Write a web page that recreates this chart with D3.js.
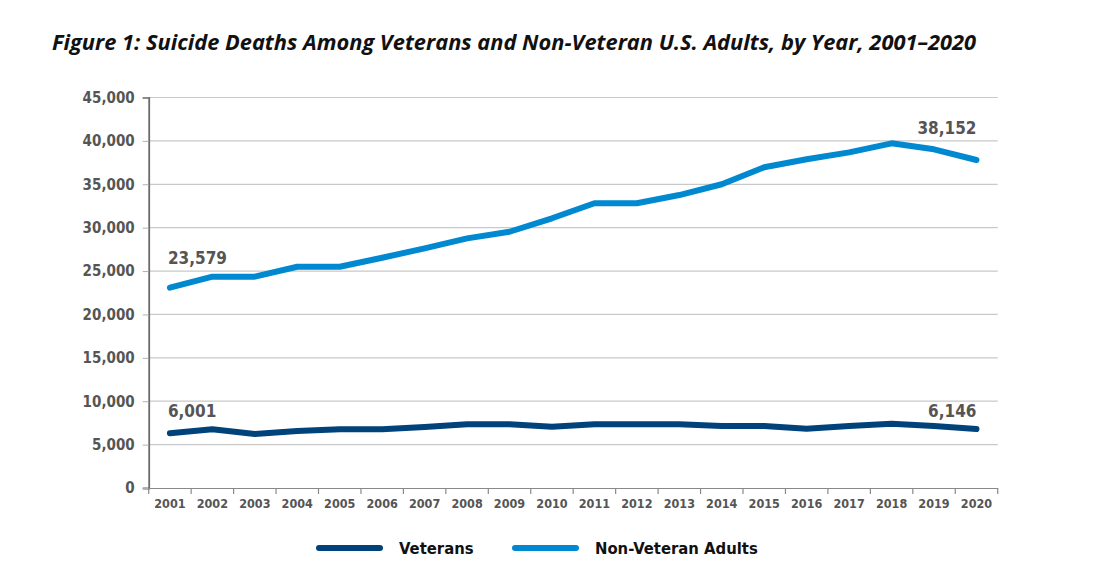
<!DOCTYPE html>
<html>
<head>
<meta charset="utf-8">
<script src="https://cdn.jsdelivr.net/npm/d3@7"></script>
<style>
  body { margin: 0; background: #fff; }
  svg { display: block; }
  text { font-family: "Liberation Sans Narrow", "DejaVu Sans Condensed", "Open Sans", sans-serif; }
</style>
</head>
<body>
<script>
// values
var years = ["2001","2002","2003","2004","2005","2006","2007","2008","2009","2010",
             "2011","2012","2013","2014","2015","2016","2017","2018","2019","2020"];
var veterans = [6300,6760,6220,6570,6760,6760,7030,7340,7340,7060,
                7340,7340,7340,7140,7140,6830,7140,7410,7140,6800];
var nonVeterans = [23080,24350,24350,25500,25500,26540,27620,28770,29530,31080,
                   32810,32810,33760,35000,36960,37880,38680,39720,39030,37800];
var yTicks = [0,5000,10000,15000,20000,25000,30000,35000,40000,45000];
var seriesNames = ["Veterans","Non-Veteran Adults"];
var endLabels = [["6,001","6,146"],["23,579","38,152"]];

var W = 1108, H = 576;
var margin = {top: 97.5, right: 110, bottom: 88, left: 148.7},
    width = 997.7 - margin.left,
    height = 488 - margin.top;

var colors = ["#00427a","#0089d0"];

var svg = d3.select("body").append("svg")
  .attr("width", W)
  .attr("height", H);

// title
svg.append("text")
  .text("Figure 1: Suicide Deaths Among Veterans and Non-Veteran U.S. Adults, by Year, 2001\u20132020")
  .attr("x", 52).attr("y", 50)
  .attr("textLength", 924).attr("lengthAdjust", "spacingAndGlyphs")
  .style("font-family", "'Open Sans', sans-serif")
  .style("font-weight", "bold").style("font-style", "italic")
  .style("font-size", "21px").style("fill", "#111");

var chart = svg.append("g")
  .attr("transform", "translate(" + margin.left + "," + margin.top + ")");

var xscale = d3.scaleBand().domain(years).range([0, width]).padding(0);
var yscale = d3.scaleLinear().domain([0, 45000]).range([height, 0]);

// gridlines
chart.append("g").selectAll("line")
  .data(yTicks.filter(d => d > 0))
  .enter().append("line")
  .attr("x1", 0).attr("x2", width)
  .attr("y1", d => yscale(d)).attr("y2", d => yscale(d))
  .attr("stroke", "#c9c9c9").attr("stroke-width", 1.2);

// y axis
var yAxis = chart.append("g")
  .call(d3.axisLeft(yscale).tickValues(yTicks).tickSize(6).tickPadding(8)
    .tickFormat(d3.format(",")));
yAxis.select(".domain").attr("stroke", "#6b6b6b").attr("stroke-width", 1.8);
yAxis.selectAll(".tick line").attr("stroke", "#b0b0b0");
yAxis.selectAll("text")
  .style("font-size", "15px").style("font-weight", "bold").style("fill", "#555");

// x axis
var xAxis = chart.append("g")
  .attr("transform", "translate(0," + height + ")")
  .call(d3.axisBottom(xscale).tickSize(0).tickPadding(11));
xAxis.select(".domain").attr("stroke", "#8a8a8a").attr("stroke-width", 1.2);
xAxis.selectAll("text")
  .style("font-size", "12.5px").style("font-weight", "bold").style("fill", "#555");
xAxis.selectAll(".bound")
  .data(years.concat(["end"]))
  .enter().append("line")
  .attr("x1", (d, i) => i * xscale.step()).attr("x2", (d, i) => i * xscale.step())
  .attr("y1", 0).attr("y2", 6)
  .attr("stroke", "#8a8a8a").attr("stroke-width", 1.2);

// lines
var line = d3.line()
  .x((d, i) => xscale(years[i]) + xscale.bandwidth() / 2)
  .y(d => yscale(d));

[veterans, nonVeterans].forEach(function (s, k) {
  chart.append("path")
    .datum(s)
    .attr("d", line)
    .attr("fill", "none")
    .attr("stroke", colors[k])
    .attr("stroke-width", 6)
    .attr("stroke-linecap", "round")
    .attr("stroke-linejoin", "round");
});

// end labels
[veterans, nonVeterans].forEach(function (s, k) {
  var first = 0, last = years.length - 1;
  chart.append("text")
    .text(endLabels[k][0])
    .attr("x", xscale(years[first]) + xscale.bandwidth() / 2 - 2)
    .attr("y", k === 0 ? yscale(10000) + 16 : yscale(s[first]) - 24)
    .style("font-size", "17px").style("font-weight", "bold").style("fill", "#555");
  chart.append("text")
    .text(endLabels[k][1])
    .attr("x", xscale(years[last]) + xscale.bandwidth() / 2)
    .attr("y", k === 0 ? yscale(10000) + 16 : yscale(40000) - 7)
    .attr("text-anchor", "end")
    .style("font-size", "17px").style("font-weight", "bold").style("fill", "#555");
});

// legend
var legendX = [316, 512];
seriesNames.forEach(function (name, k) {
  svg.append("line")
    .attr("x1", legendX[k] + 3).attr("x2", legendX[k] + 64)
    .attr("y1", 548).attr("y2", 548)
    .attr("stroke", colors[k]).attr("stroke-width", 6)
    .attr("stroke-linecap", "round");
  svg.append("text")
    .text(name)
    .attr("x", legendX[k] + 83).attr("y", 554)
    .style("font-size", "16.5px").style("font-weight", "bold").style("fill", "#111");
});
</script>
</body>
</html>
